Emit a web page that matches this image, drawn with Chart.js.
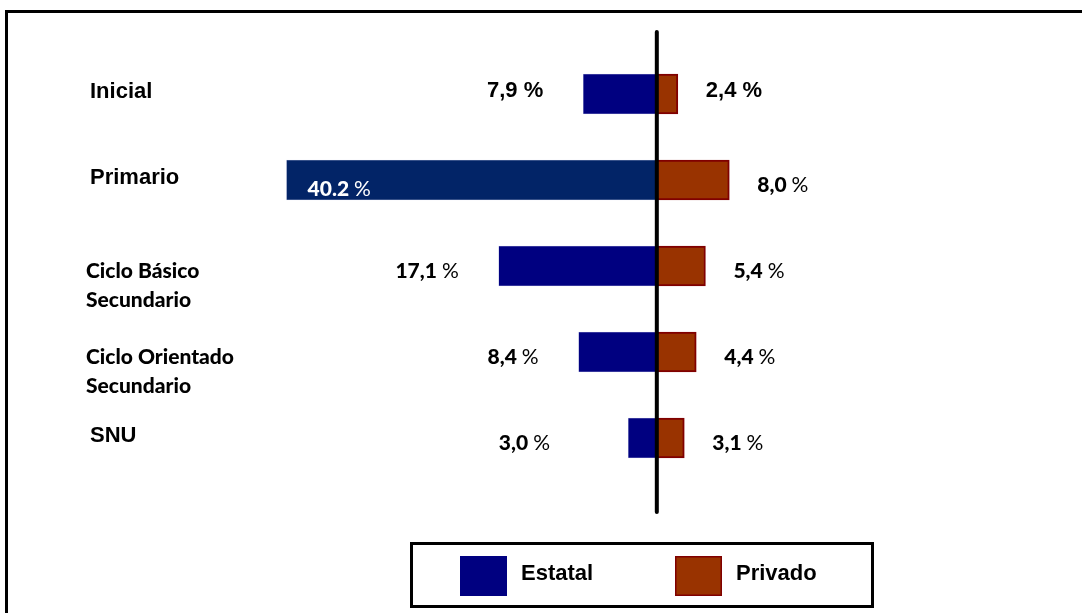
<!DOCTYPE html>
<html>
<head>
<meta charset="utf-8">
<script src="https://cdn.jsdelivr.net/npm/chart.js@4"></script>
<style>
  body { margin: 0; background: #fff; }
  canvas { display: block; }
</style>
</head>
<body>
<canvas id="mainChart" width="1082" height="613"></canvas>
<script>
const categories = [['Inicial'], ['Primario'], ['Ciclo Básico', 'Secundario'], ['Ciclo Orientado', 'Secundario'], ['SNU']];
const estatalValues = [7.9, 40.2, 17.1, 8.4, 3.0];
const privadoValues = [2.4, 8.0, 5.4, 4.4, 3.1];
const estatalLabels = ['7,9 %', '40.2 %', '17,1 %', '8,4 %', '3,0 %'];
const privadoLabels = ['2,4 %', '8,0 %', '5,4 %', '4,4 %', '3,1 %'];
const seriesNames = ['Estatal', 'Privado'];
const estatalColors = ['#000080', '#022467', '#000080', '#000080', '#000080'];
const privadoColor = '#993300';

const arialBold = 'bold 22px "Liberation Sans", Arial, sans-serif';
const calBold = '900 21px Lato, "Open Sans", sans-serif';
const calNorm = '21px Lato, "Open Sans", sans-serif';

// number bold, "%" normal, like the calibri labels in the source
function drawPct(ctx, txt, x, y, align, color, arial) {
  ctx.fillStyle = color;
  ctx.textBaseline = 'middle';
  if (arial) {
    ctx.font = arialBold;
    ctx.textAlign = align;
    ctx.fillText(txt, x, y);
    return;
  }
  const num = txt.replace(' %', ' ');
  ctx.font = calBold;
  const w1 = ctx.measureText(num).width;
  ctx.font = calNorm;
  const w2 = ctx.measureText('%').width;
  let left = align === 'right' ? x - w1 - w2 : x;
  ctx.textAlign = 'left';
  ctx.font = calBold;
  ctx.fillText(num, left, y);
  ctx.font = calNorm;
  ctx.fillText('%', left + w1, y);
}

const decorPlugin = {
  id: 'decor',
  beforeDraw(chart) {
    const ctx = chart.ctx;
    ctx.save();
    ctx.strokeStyle = '#000';
    ctx.lineWidth = 3;
    ctx.strokeRect(6.5, 11.5, 1200, 1200);
    ctx.restore();
  },
  afterDraw(chart) {
    const ctx = chart.ctx;
    const xs = chart.scales.x;
    const ys = chart.scales.y;
    const area = chart.chartArea;
    const x0 = xs.getPixelForValue(0);
    ctx.save();

    // centre line
    ctx.strokeStyle = '#000';
    ctx.lineWidth = 4;
    ctx.lineCap = 'round';
    ctx.beginPath();
    ctx.moveTo(x0 + 1, area.top - 19);
    ctx.lineTo(x0 + 1, area.bottom + 31);
    ctx.stroke();

    // category names
    categories.forEach((lines, i) => {
      const y = ys.getPixelForValue(i);
      ctx.fillStyle = '#000';
      ctx.textAlign = 'left';
      ctx.textBaseline = 'middle';
      if (lines.length === 1) {
        ctx.font = arialBold;
        ctx.fillText(lines[0], 90, y - 2);
      } else {
        ctx.font = calBold;
        ctx.fillText(lines[0], 86, y + 5);
        ctx.fillText(lines[1], 86, y + 34);
      }
    });

    // value labels
    estatalLabels.forEach((txt, i) => {
      const y = ys.getPixelForValue(i) + (i === 0 ? -3 : 5);
      const barLeft = xs.getPixelForValue(-estatalValues[i]);
      ctx.font = calBold;
      const w = ctx.measureText(txt).width;
      if (barLeft - 40 - w < area.left) {
        drawPct(ctx, txt, barLeft + 21, y + 4, 'left', '#fff', false);
      } else {
        drawPct(ctx, txt, Math.min(550, barLeft - 40), y, 'right', '#000', i === 0);
      }
    });
    privadoLabels.forEach((txt, i) => {
      const y = ys.getPixelForValue(i) + (i === 0 ? -3 : 5);
      const barEnd = xs.getPixelForValue(privadoValues[i]);
      drawPct(ctx, txt, barEnd + 28, y, 'left', '#000', i === 0);
    });

    // legend box
    const ds = chart.data.datasets;
    ctx.lineWidth = 3;
    ctx.strokeStyle = '#000';
    ctx.strokeRect(411.5, 543.5, 461, 63);
    const legX = [460, 675];
    const swatch = [estatalColors[0], privadoColor];
    ds.forEach((d, k) => {
      ctx.fillStyle = swatch[k];
      ctx.fillRect(legX[k], 556, 47, 40);
      if (k === 1) {
        ctx.lineWidth = 1.5;
        ctx.strokeStyle = d.borderColor;
        ctx.strokeRect(legX[k] + 0.75, 556.75, 45.5, 38.5);
      }
      ctx.fillStyle = '#000';
      ctx.font = arialBold;
      ctx.textAlign = 'left';
      ctx.textBaseline = 'middle';
      ctx.fillText(d.label, legX[k] + 61, 574);
    });
    ctx.restore();
  }
};

const ctxMain = document.getElementById('mainChart').getContext('2d');

const mainChart = new Chart(ctxMain, {
  type: 'bar',
  data: {
    labels: categories,
    datasets: [{
      label: seriesNames[0],
      data: estatalValues.map(v => -v),
      backgroundColor: estatalColors,
      borderColor: '#c8cce8',
      borderWidth: 0.5,
      grouped: false,
      barThickness: 40
    }, {
      label: seriesNames[1],
      data: privadoValues,
      backgroundColor: privadoColor,
      borderColor: '#800000',
      borderWidth: 2,
      borderSkipped: false,
      grouped: false,
      barThickness: 40
    }]
  },
  options: {
    indexAxis: 'y',
    responsive: false,
    animation: false,
    devicePixelRatio: 1,
    layout: {
      padding: { left: 270, right: 22, top: 51, bottom: 132 }
    },
    scales: {
      x: { display: false, min: -42, max: 44 },
      y: { display: false }
    },
    plugins: {
      legend: { display: false },
      tooltip: { enabled: false }
    }
  },
  plugins: [decorPlugin]
});
</script>
</body>
</html>
